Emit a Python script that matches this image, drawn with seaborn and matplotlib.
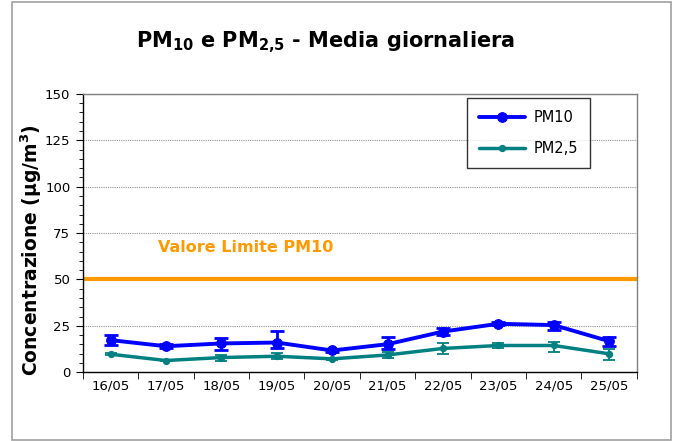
import matplotlib
matplotlib.use("Agg")
import matplotlib.pyplot as plt
import seaborn as sns
import pandas as pd
import numpy as np
from matplotlib.patches import Rectangle

# daily means
giorni = ["16/05", "17/05", "18/05", "19/05", "20/05",
          "21/05", "22/05", "23/05", "24/05", "25/05"]
pm10 = [17.3, 14.0, 15.5, 16.0, 11.7, 15.1, 21.9, 26.1, 25.4, 16.7]
pm10_max = [20.3, 15.0, 18.2, 22.1, 12.5, 19.2, 23.9, 26.9, 27.2, 19.2]
pm10_min = [14.6, 13.0, 11.9, 13.1, 10.9, 12.7, 19.9, 25.3, 23.0, 14.0]
pm25 = [9.7, 6.3, 7.9, 8.6, 7.2, 9.3, 12.8, 14.4, 14.4, 9.9]
pm25_max = [10.2, 6.8, 9.5, 10.4, 7.8, 11.0, 15.8, 15.6, 16.5, 12.6]
pm25_min = [9.2, 5.8, 6.1, 7.0, 6.6, 7.7, 9.9, 12.8, 11.0, 6.5]
limite = 50

df = pd.DataFrame({"giorno": giorni, "PM10": pm10, "PM2,5": pm25})

sns.set_style("white")
plt.rcParams['font.family'] = ['DejaVu Sans']
plt.rcParams['text.color'] = 'black'
plt.rcParams['axes.labelcolor'] = 'black'
plt.rcParams['xtick.color'] = 'black'
plt.rcParams['ytick.color'] = 'black'

fig = plt.figure(figsize=(6.79, 4.41), dpi=100)
ax = fig.add_axes([0.122, 0.156, 0.816, 0.631])

# outer frame of the chart
fig.patches.append(Rectangle((12 / 679, 1 / 441), 659 / 679, 438 / 441,
                             transform=fig.transFigure, fill=False,
                             edgecolor='#a0a0a0', lw=1.2))

x = np.arange(len(giorni))
ax.axhline(limite, color='#FF9900', lw=3, zorder=2)
ax.text(0.85, 67, "Valore Limite PM10", color='#FF9900', fontsize=11.5,
        fontweight='bold', va='center', ha='left')

sns.lineplot(x=x, y=df["PM10"], ax=ax, color='#0000FF', lw=2.8, marker='o',
             markersize=7, markeredgecolor='#0000FF', label='PM10', zorder=4)
sns.lineplot(x=x, y=df["PM2,5"], ax=ax, color='#008080', lw=2.5, marker='o',
             markersize=4.5, markeredgecolor='#008080', label='PM2,5', zorder=3)

err10 = [np.array(pm10) - np.array(pm10_min), np.array(pm10_max) - np.array(pm10)]
err25 = [np.array(pm25) - np.array(pm25_min), np.array(pm25_max) - np.array(pm25)]
ax.errorbar(x, pm10, yerr=err10, fmt='none', ecolor='#0000FF', elinewidth=2,
            capsize=5, capthick=2, zorder=4)
ax.errorbar(x, pm25, yerr=err25, fmt='none', ecolor='#008080', elinewidth=1.3,
            capsize=4.5, capthick=1.3, zorder=3)

ax.set_xlim(-0.5, 9.5)
ax.set_ylim(0, 150)
ax.set_yticks(np.arange(0, 151, 25))
ax.set_yticks(np.arange(0, 151, 5), minor=True)
ax.yaxis.grid(True, which='major', color='#909090', ls=(0, (1, 1)), lw=0.8)
ax.set_axisbelow(True)

ax.set_xticks(x)
ax.set_xticklabels(giorni, fontsize=9.5)
ax.set_xticks(np.arange(-0.5, 10, 1), minor=True)
ax.tick_params(axis='x', which='major', length=0, pad=5)
ax.tick_params(axis='x', which='minor', length=5, direction='out', color='black', bottom=True)
ax.tick_params(axis='y', which='major', length=5, direction='out', labelsize=9.5, left=True, pad=4)
ax.tick_params(axis='y', which='minor', length=3, direction='out', left=True)

for s in ['left', 'bottom']:
    ax.spines[s].set_color('black')
    ax.spines[s].set_linewidth(1)
for s in ['top', 'right']:
    ax.spines[s].set_color('#808080')
    ax.spines[s].set_linewidth(1)

ax.set_xlabel("")
ax.set_ylabel("Concentrazione (µg/m$^{\\mathbf{3}}$)", fontsize=13.5, fontweight='bold')
ax.yaxis.set_label_coords(-0.07, 0.44)

fig.text(0.48, 0.905, r"PM$_{\mathbf{10}}$ e PM$_{\mathbf{2{,}5}}$ - Media giornaliera",
         ha='center', va='center', fontsize=15, fontweight='bold')

leg = ax.legend(loc='upper left', bbox_to_anchor=(0.68, 1.01), fontsize=10.5,
                frameon=True, fancybox=False, edgecolor='black', borderpad=0.8,
                labelspacing=1.1, handlelength=3.2, handletextpad=0.6)
leg.get_frame().set_linewidth(1)

fig.savefig("out.png", dpi=100)
